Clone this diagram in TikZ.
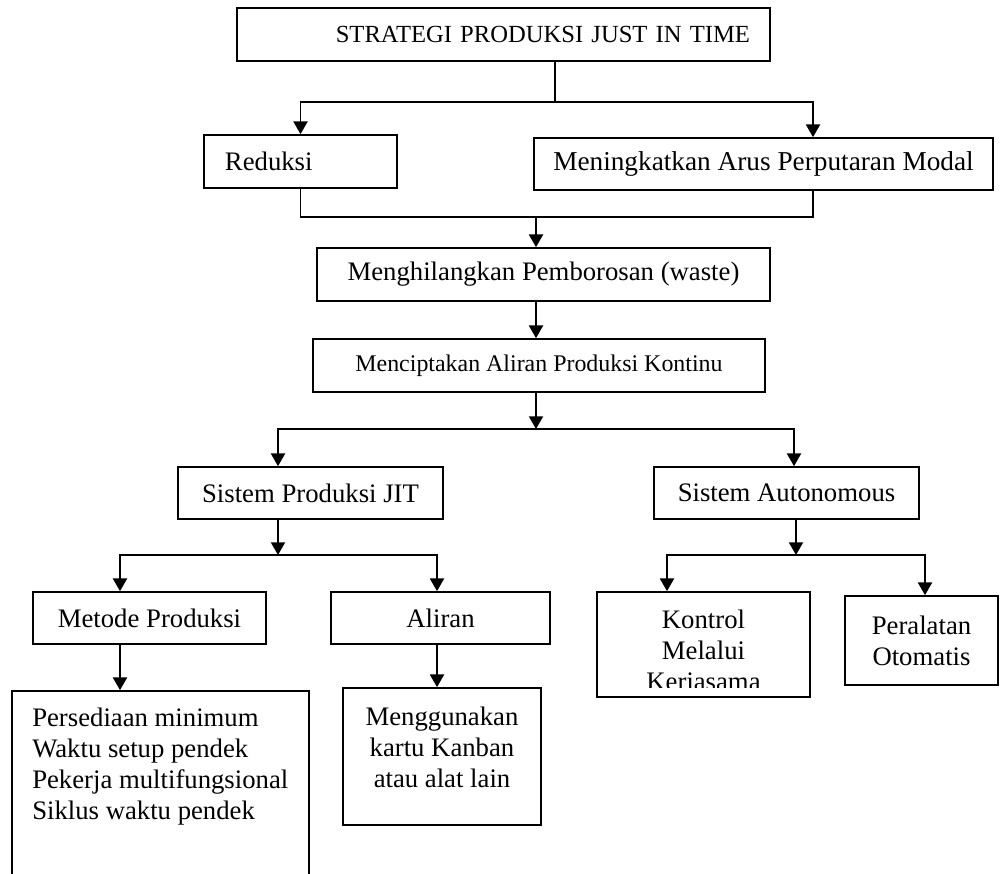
\documentclass[tikz,border=0pt]{standalone}
\usepackage{fontspec}
\setmainfont{Liberation Serif}
\usetikzlibrary{arrows.meta, positioning}

\begin{document}
\begin{tikzpicture}[
  x=0.025cm, y=-0.025cm,
  box/.style={draw, line width=1.2pt, minimum height=1.3cm, inner sep=0pt,
              align=center, font=\fontsize{19}{22}\selectfont},
  txt/.style={inner sep=0pt, align=center, font=\fontsize{19}{22}\selectfont},
  arr/.style={-{Triangle[length=9pt, width=10pt]}, line width=1.2pt},
  lin/.style={line width=1.2pt}
]
  \useasboundingbox (0,0) rectangle (1000,874);

  \node[box, minimum width=13.325cm, minimum height=1.325cm, text width=12.325cm,
        align=right, font=\fontsize{17.5}{21}\selectfont] (strategi) at (503.5,34.5)
    {STRATEGI PRODUKSI JUST IN TIME};

  \node[box, minimum width=4.825cm, minimum height=1.325cm, text width=3.775cm,
        align=left] (reduksi) at (300.5,161.5) {Reduksi};
  \node[box, minimum width=11.475cm, font=\fontsize{19.4}{22}\selectfont] (modal)
    at (763.5,164) {Meningkatkan Arus Perputaran Modal};

  \node[box, minimum width=11.325cm, minimum height=1.325cm] (waste) at (543.5,274.5)
    {Menghilangkan Pemborosan (waste)};
  \node[box, minimum width=11.3cm, minimum height=1.325cm,
        font=\fontsize{17}{20}\selectfont] (kontinu) at (539,365.5)
    {Menciptakan Aliran Produksi Kontinu};

  \node[box, minimum width=6.625cm] (jit) at (310.5,493) {Sistem Produksi JIT};
  \node[box, minimum width=6.625cm] (autonom) at (786.5,493) {Sistem Autonomous};

  \node[box, minimum width=5.825cm] (metode) at (149.5,618) {Metode Produksi};
  \node[box, minimum width=5.475cm] (aliran) at (440.5,618) {Aliran};

  % bottom of this box runs off the page
  \node[box, minimum width=7.425cm, minimum height=5.725cm] (daftar) at (160.5,805.5) {};
  \node[txt, anchor=north west, align=left] (daftartxt) at (32,708)
    {Persediaan minimum\\Waktu setup pendek\\Pekerja multifungsional\\Siklus waktu pendek};

  \node[box, minimum width=4.95cm, minimum height=3.425cm] (kanban) at (442,756.5) {};
  \node[txt, anchor=north] (kanbantxt) at (442,707)
    {Menggunakan\\kartu Kanban\\atau alat lain};

  \node[box, minimum width=5.325cm, minimum height=2.625cm] (kontrol) at (703.5,644.5) {};
  \begin{scope}
    \clip (kontrol.north west) rectangle ([yshift=0.25cm]kontrol.south east);
    \node[txt, anchor=north] (kontroltxt) at (703.5,610) {Kontrol\\Melalui\\Kerjasama};
  \end{scope}
  \node[box, minimum width=3.825cm, minimum height=2.225cm] (alat) at (921.5,640.5)
    {Peralatan\\Otomatis};

  % junctions
  \coordinate (s1) at (555,102);
  \coordinate (s1r) at (813,102);
  \coordinate (s2) at (536,217);
  \coordinate (s3) at (536,429);
  \coordinate (s3l) at (278,429);
  \coordinate (s3r) at (794,429);
  \coordinate (s4) at (278,555);
  \coordinate (s4l) at (120,555);
  \coordinate (s4r) at (437,555);
  \coordinate (s5) at (796,555);
  \coordinate (s5l) at (667,555);
  \coordinate (s5r) at (925,555);

  \draw[lin] (s1 |- strategi.south) -- (s1);
  \draw[arr] (s1) -| (reduksi.north);
  \draw[arr] (s1) -- (s1r) -- (s1r |- modal.north);

  \draw[lin] (reduksi.south) |- (s2);
  \draw[lin] (s1r |- modal.south) |- (s2);
  \draw[arr] (s2) -- (s2 |- waste.north);
  \draw[arr] (s2 |- waste.south) -- (s2 |- kontinu.north);

  \draw[arr] (s3 |- kontinu.south) -- (s3);
  \draw[arr] (s3) -- (s3l) -- (s3l |- jit.north);
  \draw[arr] (s3) -- (s3r) -- (s3r |- autonom.north);

  \draw[arr] (s4 |- jit.south) -- (s4);
  \draw[arr] (s4) -- (s4l) -- (s4l |- metode.north);
  \draw[arr] (s4) -- (s4r) -- (s4r |- aliran.north);

  \draw[arr] (s5 |- autonom.south) -- (s5);
  \draw[arr] (s5) -- (s5l) -- (s5l |- kontrol.north);
  \draw[arr] (s5) -- (s5r) -- (s5r |- alat.north);

  \draw[arr] (s4l |- metode.south) -- (s4l |- daftar.north);
  \draw[arr] (s4r |- aliran.south) -- (s4r |- kanban.north);
\end{tikzpicture}
\end{document}
